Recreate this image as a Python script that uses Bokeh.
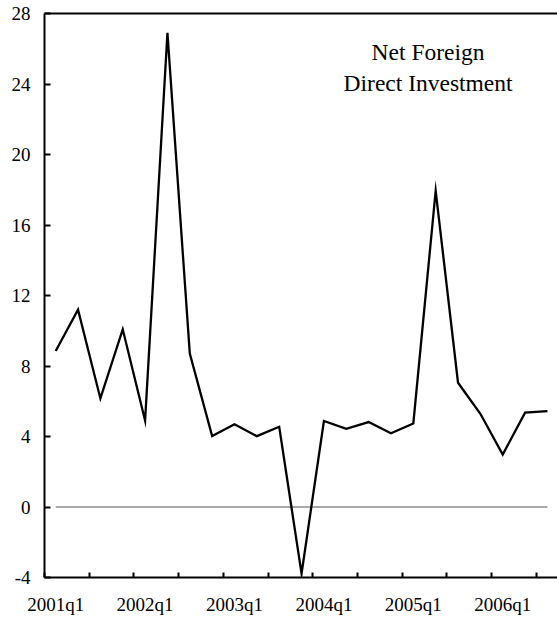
from bokeh.plotting import figure
from bokeh.models import Range1d, FixedTicker, LinearAxis, Label, ColumnDataSource
from bokeh.embed import file_html
from bokeh.resources import INLINE

# ---- data ----
quarters = ["2001q1", "2001q2", "2001q3", "2001q4",
            "2002q1", "2002q2", "2002q3", "2002q4",
            "2003q1", "2003q2", "2003q3", "2003q4",
            "2004q1", "2004q2", "2004q3", "2004q4",
            "2005q1", "2005q2", "2005q3", "2005q4",
            "2006q1", "2006q2", "2006q3"]
net_fdi = [8.85, 11.2, 6.16, 10.08, 4.91, 26.9, 8.7, 4.03,
           4.69, 4.02, 4.55, -3.78, 4.88, 4.44, 4.82, 4.18,
           4.74, 17.94, 7.05, 5.29, 2.98, 5.35, 5.44]
y_ticks = [-4, 0, 4, 8, 12, 16, 20, 24, 28]
label_quarters = ["2001q1", "2002q1", "2003q1", "2004q1", "2005q1", "2006q1"]
annotation_lines = ["Net Foreign", "Direct Investment"]

FONT = "Liberation Serif"

idx = list(range(len(quarters)))
src = ColumnDataSource(dict(x=idx, y=net_fdi))

p = figure(width=557, height=618, output_backend="svg", toolbar_location=None,
           x_range=Range1d(-0.5, 22.45), y_range=Range1d(y_ticks[0], y_ticks[-1]),
           min_border_left=44, min_border_right=0, min_border_top=13,
           min_border_bottom=41)
p.grid.visible = False
p.outline_line_color = None
p.background_fill_color = "white"
p.border_fill_color = "white"

# zero line between first and last observation
p.line(x=[idx[0], idx[-1]], y=[0, 0], line_color="#555555", line_width=1)

# series
p.line("x", "y", source=src, line_color="black", line_width=2.3, line_join="miter")

# x axis
label_pos = [quarters.index(q) for q in label_quarters]
boundaries = [i - 0.5 for i in range(0, len(quarters) + 1, 2)]
xa = p.xaxis[0]
xa.ticker = FixedTicker(ticks=label_pos, minor_ticks=boundaries)
xa.major_label_overrides = {pos: q for pos, q in zip(label_pos, label_quarters)}
xa.major_tick_in = 0
xa.major_tick_out = 0
xa.minor_tick_in = 5
xa.minor_tick_out = 0
xa.minor_tick_line_width = 2
xa.minor_tick_line_color = "black"
xa.axis_line_width = 2
xa.axis_line_color = "black"
xa.major_label_standoff = 16
xa.major_label_text_font = FONT
xa.major_label_text_font_size = "19px"
xa.major_label_text_color = "black"

# y axis
ya = p.yaxis[0]
ya.ticker = FixedTicker(ticks=y_ticks)
ya.major_label_overrides = {t: str(t) for t in y_ticks}
ya.major_tick_in = 6
ya.major_tick_out = 0
ya.major_tick_line_width = 2
ya.major_tick_line_color = "black"
ya.minor_tick_line_color = None
ya.axis_line_width = 2
ya.axis_line_color = "black"
ya.major_label_standoff = 14
ya.major_label_text_font = FONT
ya.major_label_text_font_size = "19px"
ya.major_label_text_color = "black"

# top border
top = LinearAxis(ticker=FixedTicker(ticks=[]), major_tick_in=0, major_tick_out=0,
                 minor_tick_in=0, minor_tick_out=0, major_label_text_font_size="0px",
                 major_label_standoff=0, axis_line_width=2, axis_line_color="black")
p.add_layout(top, "above")

# annotation
for line, yv in zip(annotation_lines, [25.84, 24.08]):
    p.add_layout(Label(x=16.66, y=yv, text=line, text_align="center",
                       text_baseline="alphabetic", text_font=FONT,
                       text_font_size="23.5px", text_color="black"))

open("out.html", "w").write(file_html(p, INLINE))
